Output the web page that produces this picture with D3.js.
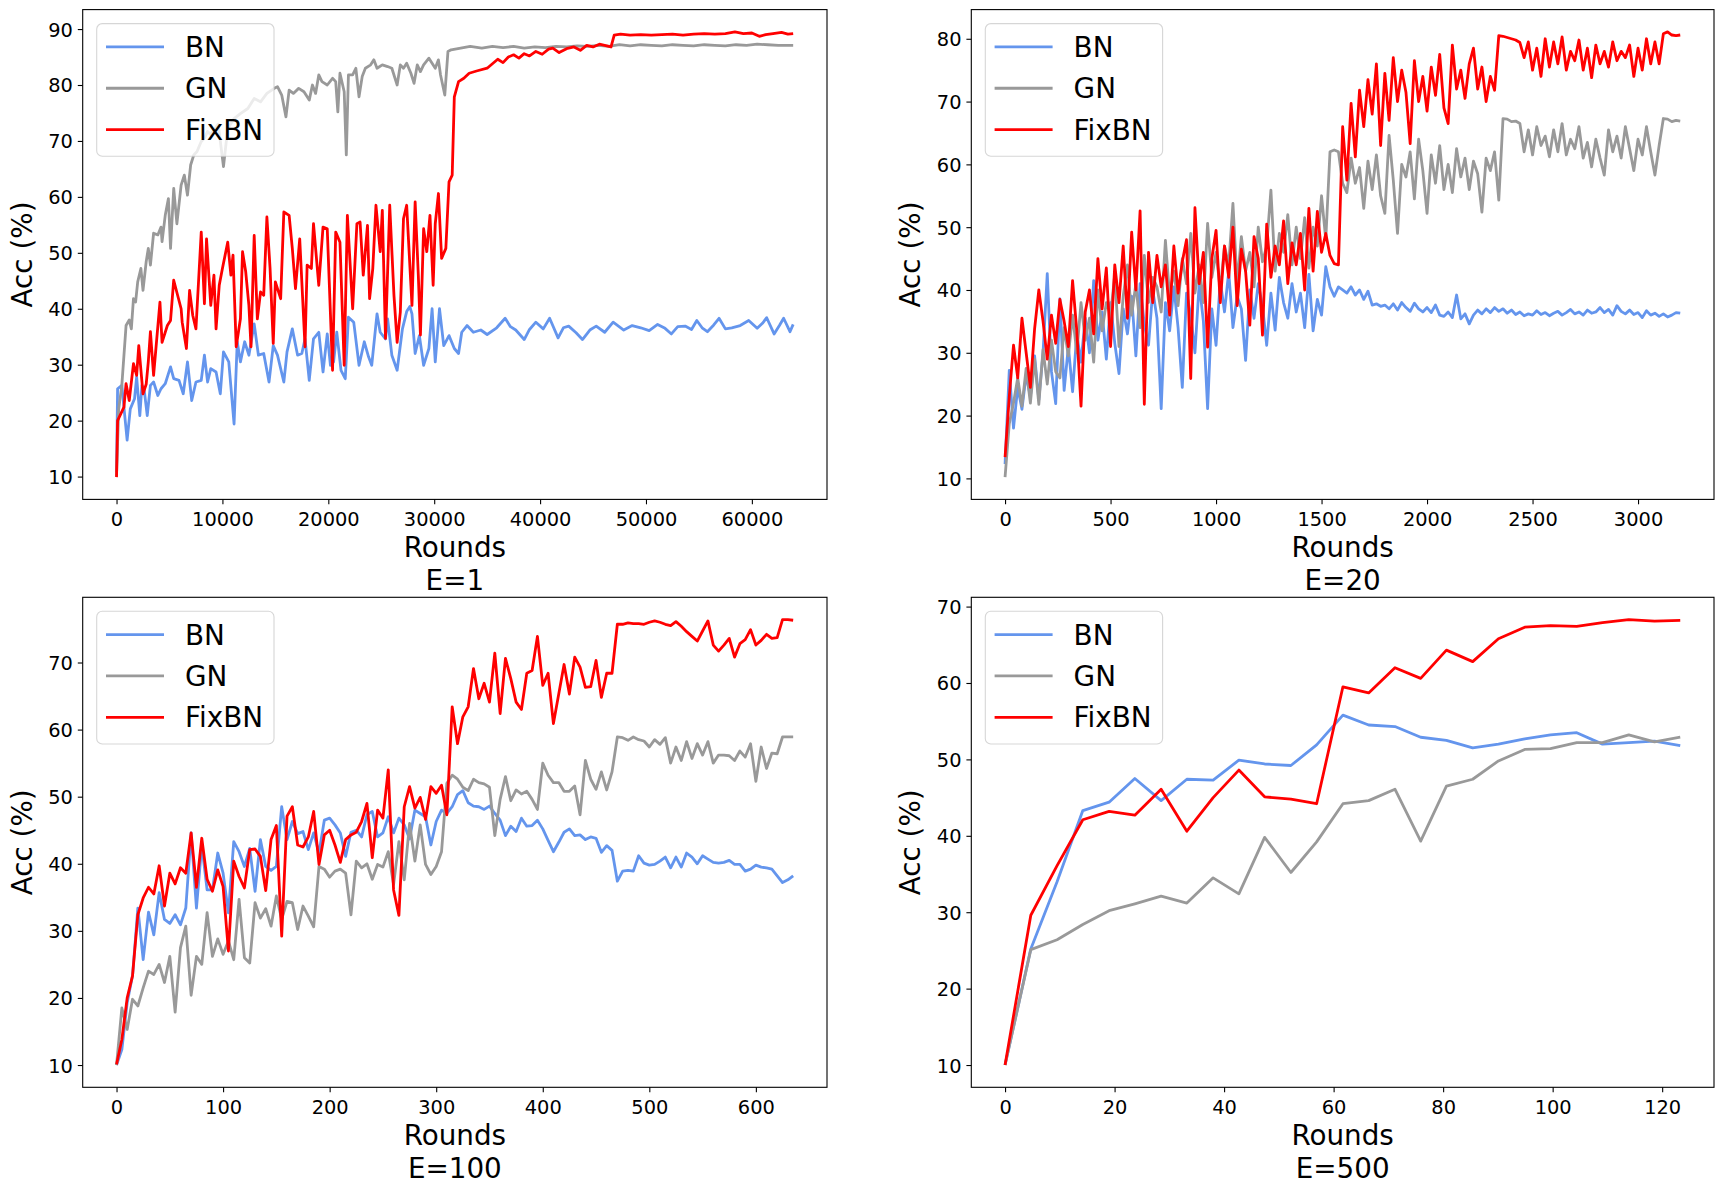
<!DOCTYPE html>
<html><head><meta charset="utf-8">
<script src="https://cdn.jsdelivr.net/npm/d3@7"></script>
<style>body{margin:0;background:#fff}svg{display:block;font-family:"DejaVu Sans",sans-serif}</style>
</head><body><svg id="c" width="1719" height="1193"></svg>
<script>
// ---------------- DATA ----------------
const seriesNames = ["BN", "GN", "FixBN"];
const seriesColors = ["#6495ED", "#999999", "#FF0000"];

// E=1 : [round, acc] vertices
const e1BN = [[0,10.8],[100,25.7],[500,26.3],[1000,16.5],[1300,22.1],[1700,23.9],[1900,27.8],[2200,20.9],[2400,26.3],[2600,25.7],[2900,20.9],[3200,26.3],[3500,26.9],[3900,24.5],[4200,25.7],[4600,26.6],[5100,29.6],[5400,27.5],[5900,27.2],[6300,24.8],[6700,30.5],[7100,23.6],[7500,26.9],[8000,27.2],[8300,31.7],[8600,26.9],[8900,29.3],[9400,28.7],[9800,24.8],[10100,32.3],[10600,30.5],[11100,19.4],[11400,34.1],[11700,30.5],[12100,34.1],[12500,31.7],[13000,37.3],[13400,31.7],[13900,32.0],[14400,26.9],[14800,33.4],[15200,31.7],[15800,26.9],[16100,32.3],[16600,36.4],[17100,31.7],[17500,32.0],[17800,34.6],[18200,27.2],[18600,34.6],[19100,35.8],[19500,28.7],[19900,35.5],[20200,29.9],[20500,30.5],[20800,35.8],[21200,29.0],[21600,27.5],[21900,38.5],[22400,37.6],[22900,29.9],[23400,34.1],[23800,31.4],[24100,29.9],[24600,39.1],[24900,35.8],[25400,34.6],[25600,38.2],[26000,31.7],[26500,29.0],[27000,36.4],[27400,39.5],[27700,40.4],[27900,39.1],[28200,32.0],[28600,35.2],[29000,29.9],[29500,32.9],[29800,40.0],[30100,30.5],[30500,40.0],[30900,33.4],[31400,35.2],[31900,32.9],[32300,32.0],[32600,35.8],[33100,37.0],[33700,35.8],[34400,36.2],[35000,35.4],[35900,36.6],[36700,38.3],[37200,36.8],[37700,36.2],[38500,34.5],[39000,36.3],[39600,37.6],[40300,36.4],[40900,38.3],[41700,34.8],[42200,36.6],[42700,36.9],[43400,35.7],[44000,34.5],[44700,36.2],[45300,36.9],[46100,35.8],[46900,37.6],[47900,36.2],[48700,37.0],[49500,36.6],[50300,36.1],[51100,37.2],[51800,36.5],[52400,35.5],[53000,36.8],[53700,36.9],[54300,36.3],[54800,37.9],[55300,36.6],[55800,35.9],[56400,37.1],[56900,38.3],[57500,36.4],[58100,36.6],[58900,37.0],[59700,37.9],[60500,36.5],[61000,37.4],[61400,38.4],[62100,35.5],[62600,37.0],[63000,38.3],[63600,35.9],[63900,37.2]];
const e1GN = [[0,10],[200,22],[500,26.3],[900,37],[1200,38],[1400,36.4],[1600,41.8],[1800,41.2],[2000,44.8],[2300,47.2],[2500,43.3],[2800,48.4],[3000,50.8],[3200,47.8],[3500,53.5],[3900,53.2],[4200,54.6],[4300,52],[4600,56.7],[4900,59.7],[5100,50.8],[5400,61.5],[5700,55.2],[6100,62.1],[6400,63.9],[6700,60.3],[7000,65.7],[7300,67.5],[7600,68.1],[8000,69.9],[8300,70.5],[8600,71.7],[8900,71.1],[9200,72.0],[9600,73.0],[10100,65.4],[10500,72.2],[11100,74.0],[11700,74.9],[12400,75.8],[13000,77.6],[13600,77.0],[14200,78.5],[14900,79.4],[15200,79.7],[15600,78.2],[16000,74.3],[16300,79.1],[16700,78.5],[17200,79.4],[17700,78.8],[18200,77.3],[18500,80.0],[18800,78.5],[19100,81.8],[19400,80.6],[19900,80.0],[20400,81.2],[20700,80.6],[20900,75.2],[21100,82.1],[21500,78.8],[21700,67.5],[21900,81.8],[22300,81.8],[22600,83.0],[22900,77.9],[23200,81.5],[23500,83.0],[24000,83.6],[24300,84.5],[24600,83.0],[25100,83.6],[25600,83.3],[26000,83.0],[26500,80.0],[26800,83.6],[27100,83.0],[27400,83.9],[27800,82.1],[28100,80.3],[28400,83.6],[28700,82.4],[29000,83.6],[29500,84.8],[29800,83.9],[30100,83.0],[30400,84.5],[30600,81.8],[31000,78.2],[31300,86.0],[31600,86.3],[32500,86.6],[33400,86.9],[34500,86.6],[35500,86.9],[36500,86.7],[37500,86.9],[38500,86.6],[39500,86.8],[40500,86.7],[41500,86.9],[42500,86.8],[43500,87.0],[44500,86.9],[45500,87.1],[46500,86.9],[47500,87.2],[48500,87.0],[49500,87.2],[50500,87.1],[51500,87.0],[52500,87.2],[53500,87.1],[54500,87.0],[55500,87.2],[56500,87.1],[57500,87.0],[58500,87.2],[59500,87.1],[60500,87.3],[61500,87.2],[62500,87.1],[63900,87.1]];
const e1FixBN = [[0,9.9],[100,20.0],[400,21.2],[700,22.4],[900,26.6],[1200,23.6],[1600,30.2],[1900,28.1],[2100,33.4],[2500,24.8],[2800,26.5],[3000,30.5],[3200,35.9],[3500,28.1],[4100,41.2],[4300,34.0],[4800,37.0],[5100,37.9],[5400,45.1],[6100,40.0],[6200,37.6],[6600,32.9],[6900,43.3],[7200,38.8],[7500,36.4],[8000,53.7],[8300,40.9],[8500,52.5],[8900,40.6],[9200,46.0],[9400,36.4],[9700,44.2],[10000,47.2],[10500,51.9],[10800,46.0],[11000,49.6],[11300,33.2],[11700,38.2],[11900,50.2],[12200,46.6],[12500,40.6],[12700,33.2],[13000,53.1],[13300,38.2],[13600,43.0],[13900,42.4],[14200,56.4],[14500,47.2],[14800,33.8],[15000,44.8],[15500,41.8],[15800,57.3],[16300,56.7],[16600,50.8],[16900,43.6],[17300,52.5],[17800,33.2],[18000,47.8],[18400,47.2],[18600,55.2],[19100,44.2],[19500,54.6],[19900,54.3],[20400,29.0],[20700,53.7],[21100,51.9],[21500,29.9],[21800,56.7],[22300,40.0],[22700,55.2],[23000,55.5],[23300,46.0],[23700,54.9],[23900,41.8],[24200,47.2],[24500,58.5],[24900,50.2],[25100,57.6],[25400,34.7],[25800,58.5],[26200,42.4],[26500,34.0],[26800,39.4],[27100,56.1],[27400,58.5],[27900,40.6],[28200,59.1],[28500,46.0],[28700,35.3],[29000,54.3],[29300,50.2],[29600,56.7],[29900,44.2],[30100,55.2],[30400,60.6],[30700,49.0],[31100,50.8],[31400,62.7],[31700,63.9],[31900,77.9],[32300,80.6],[32800,81.2],[33300,82.1],[34000,82.5],[35000,83.0],[35500,83.8],[36000,84.6],[36500,84.0],[37000,85.0],[37500,85.4],[38000,84.8],[38500,85.6],[39000,85.2],[39600,86.0],[40200,85.5],[40800,86.4],[41200,86.6],[41800,85.8],[42500,86.5],[43200,86.8],[43800,86.2],[44400,87.1],[45000,86.8],[45600,87.3],[46300,87.0],[46700,86.8],[47000,88.9],[47600,89.1],[48500,88.9],[49500,89.0],[50500,88.9],[51500,89.0],[52500,89.1],[53500,88.9],[54500,89.1],[55500,89.2],[56500,89.1],[57500,89.2],[58400,89.5],[59200,89.2],[60000,89.3],[60700,88.7],[61300,89.0],[62000,89.2],[62800,89.4],[63400,89.1],[63900,89.2]];

// E=20 : one value every 20 rounds (0 .. 3200)
const e20RoundStep = 20;
const e20BN = [12.3,27.2,18.0,24.5,21.0,26.5,23.0,29.5,22.5,30.0, 42.6,27.0,21.9,38.6,24.0,31.0,23.8,33.0,28.5,35.5, 30.0,41.5,32.0,36.5,29.0,38.0,31.5,26.7,37.0,33.0, 39.0,29.5,41.0,34.5,31.2,40.0,35.5,21.1,38.0,33.5, 40.5,34.0,24.5,39.5,36.0,30.0,41.0,35.0,21.1,37.0, 31.2,41.5,36.5,42.9,34.0,39.0,37.0,28.8,40.0,35.5, 41.0,37.5,31.2,39.5,33.6,42.0,38.0,35.5,41.0,36.5, 39.5,34.0,42.5,33.5,38.5,36.0,43.7,40.5,39.0,40.5, 40.0,39.5,40.5,39.2,40.0,38.5,39.8,37.6,37.8,37.4, 37.6,37.0,37.8,36.8,38.0,37.2,36.6,37.9,37.0,36.5, 37.2,36.4,37.6,36.0,35.8,36.5,35.6,39.2,35.4,36.2, 34.6,36.0,36.8,36.2,37.0,36.4,37.2,36.6,37.0,36.3, 36.8,36.1,36.5,35.9,36.2,36.0,36.7,36.1,36.4,35.9, 36.3,36.6,36.0,36.4,36.9,36.2,36.5,36.0,36.8,36.3, 36.5,37.2,36.4,36.9,36.0,37.5,36.6,36.2,36.8,36.1, 36.4,35.6,36.7,36.0,36.3,35.8,36.2,35.7,36.0,36.4, 36.3];
const e20GN = [10.2,18.7,22.0,26.0,21.5,27.5,22.0,29.0,21.8,30.5, 25.0,32.0,27.0,26.0,34.0,29.5,36.0,30.0,38.0,32.0, 35.5,28.5,40.0,33.5,38.0,36.0,42.5,31.0,39.0,44.0, 36.0,41.0,34.0,45.5,38.0,42.0,40.5,36.5,47.9,39.0, 43.0,37.5,45.0,41.0,49.0,39.5,44.0,38.0,50.6,42.0, 46.0,40.0,47.0,44.0,53.8,41.0,48.5,43.0,46.0,40.5, 50.0,44.5,47.0,55.9,43.0,49.0,46.0,52.0,44.0,50.0, 45.0,51.5,43.5,50.0,47.0,55.0,48.0,62.0,62.3,62.0, 57.0,55.5,61.0,57.0,59.5,53.0,60.5,56.0,61.5,55.0, 52.2,64.6,57.5,49.0,60.0,58.0,62.0,54.5,64.0,59.0, 52.2,61.5,57.0,63.0,56.0,60.0,55.5,62.5,58.0,61.0, 56.0,60.5,58.5,52.4,61.0,59.0,62.0,54.3,67.3,67.2, 66.8,66.9,66.5,62.0,65.5,61.5,66.0,63.0,64.5,61.2, 65.5,62.0,66.5,61.5,64.0,62.5,66.0,61.0,63.5,59.6, 64.0,61.0,58.3,65.5,62.0,64.5,61.0,66.0,62.5,59.0, 64.0,61.5,66.0,62.0,58.3,63.0,67.3,67.2,66.8,67.0, 66.9];
const e20FixBN = [13.4,23.0,31.2,26.0,35.5,30.0,24.5,33.8,40.0,35.0, 29.0,36.0,31.5,38.5,35.0,31.0,41.5,33.5,21.5,36.5, 40.0,33.0,45.0,37.0,43.5,31.0,44.0,38.0,47.0,35.5, 49.2,40.0,52.6,21.8,46.0,38.0,45.5,40.5,44.0,36.0, 47.0,39.5,44.5,48.0,25.9,53.1,41.0,46.0,30.9,45.0, 49.5,38.0,47.0,42.0,50.0,37.5,46.5,43.0,34.4,48.5, 45.0,32.8,50.5,42.0,47.0,44.0,51.0,41.0,47.5,44.0, 49.0,40.0,53.0,43.0,52.5,46.0,49.0,45.5,44.2,44.0, 66.0,57.5,69.7,61.2,71.8,66.0,73.5,68.0,76.0,63.0, 74.5,67.0,77.0,70.0,75.0,71.5,63.3,76.5,70.0,74.0, 68.5,75.5,71.0,77.5,69.0,66.5,79.0,72.0,75.0,70.5, 76.0,78.5,72.0,75.5,70.0,74.0,71.8,80.5,80.4,80.2, 80.0,79.8,79.4,77.0,79.5,75.0,78.5,74.0,80.0,75.5, 79.5,76.0,80.3,75.0,78.0,76.5,79.8,75.0,78.5,73.8, 79.0,76.0,78.0,75.5,79.5,76.5,78.0,77.0,79.0,74.0, 78.5,75.0,80.0,76.0,79.5,76.0,80.8,81.1,80.6,80.5, 80.6];

// E=100 : one value every 5 rounds (0 .. 635)
const e100RoundStep = 5;
const e100BN = [10,12.3,19.3,23.3,33.4,25.7,32.8,29.4,35.7,31.7, 31.1,32.4,30.9,33.4,44.6,33.4,42.8,36.1,36.1,41.6, 38.6,32.7,43.3,41.8,39.6,42.3,35.9,43.6,39.6,39.0, 39.6,48.5,43.6,46.3,44.5,44.8,42.1,44.6,41.6,46.5, 46.8,45.8,44.6,41.1,44.7,45.0,44.0,47.3,47.8,44.0, 44.6,47.0,44.6,46.8,45.8,43.7,48.0,47.5,47.0,42.8, 46.3,48.0,47.5,48.5, 50.3,50.9,49.1,48.6,48.5,48.1,48.6,47.5,46.5,44.2, 45.6,44.8,46.8,45.6,45.7,46.5,45.2,43.5,41.8,43.2, 44.7,45.2,44.2,44.3,43.6,44.0,43.8,41.7,42.7,42.0, 37.4,38.9,39.0,38.9,41.2,40.1,39.8,39.9,40.4,41.0, 39.4,41.0,39.5,41.6,41.0,40.0,41.2,40.7,40.2,40.1, 40.2,40.5,39.9,39.9,38.9,39.2,39.8,39.5,39.4,39.2, 38.2,37.2,37.6,38.2];
const e100GN = [10,18.5,15.3,19.8,18.8,21.5,24.0,23.5,25.0,22.3, 26.2,17.9,27.5,30.7,20.4,26.2,25.0,32.7,26.2,28.8, 26.5,28.5,25.7,34.7,26.0,25.2,34.2,31.9,33.3,30.7, 35.2,31.7,34.4,34.2,30.2,33.7,32.2,30.6,39.6,39.2, 38.0,38.9,39.2,38.6,32.4,40.4,39.4,40.0,37.7,39.9, 39.5,41.8,36.9,43.3,37.6,46.0,40.4,45.8,39.9,38.4, 39.6,41.8,52.0,53.2, 52.6,51.4,50.9,52.6,52.1,51.9,51.4,44.2,49.6,53.0, 49.4,51.0,50.4,50.8,49.6,48.1,55.0,53.2,52.1,52.1, 50.8,50.8,51.6,47.3,55.4,52.6,51.1,53.7,51.0,53.7, 58.9,58.8,58.4,58.9,58.5,58.3,57.4,58.5,57.8,58.8, 55.0,57.4,55.4,58.2,55.7,57.9,56.2,58.2,55.0,56.2, 56.2,56.1,55.4,56.8,55.9,57.9,52.3,57.4,54.2,56.5, 56.4,58.9,58.9,58.9];
const e100FixBN = [10.1,13.8,20.0,23.3,32.4,34.9,36.5,35.5,39.7,33.7, 38.6,37.0,39.4,38.6,44.6,36.5,43.8,37.7,35.9,39.1, 36.6,27.0,40.4,38.1,36.4,42.1,42.2,41.1, 36.0,43.6,45.7,29.2,47.1,48.5,42.8,42.5,44.0,47.8, 39.9,44.3,45.0,42.8,40.2,43.6,44.3,44.7,46.3,49.0, 40.9,48.0,46.8,54.0,36.1,32.3,48.5,51.5,48.3,49.9, 46.6,51.5,50.5,51.7,47.3, 63.4,57.9,61.9,63.4,69.1,64.6,66.9,64.1,71.4,62.4, 70.6,67.6,64.1,63.0,68.4,68.8,73.9,66.6,68.4,60.9, 65.3,69.7,65.3,70.8,69.3,66.3,66.4,70.3,64.8,68.4, 68.4, 75.7,75.7,75.9,75.8,75.8,75.7,76.0,76.2,76.0,75.7, 75.5,76.1,75.4,74.6,73.9,73.2,74.7,76.2,72.6,71.7, 72.6,73.6,70.8,72.8,73.4,74.9,72.6,73.3,74.2,73.6, 73.7,76.4,76.4,76.3];

// E=500
const e500Rounds = [0,4.7,9.5,14.2,19,23.7,28.5,33.2,38,42.7,47.4,52.2,56.9,61.7,66.4,71.2,75.9,80.6,85.4,90.1,94.9,99.6,104.4,109.1,113.9,118.6,123.3];
const e500BN = [10,25.2,34.0,43.3,44.4,47.5,44.6,47.4,47.3,49.9,49.4,49.2,51.9,55.8,54.5,54.3,52.9,52.5,51.5,52.0,52.7,53.2,53.5,52.0,52.2,52.4,51.8];
const e500GN = [10,25.1,26.4,28.4,30.2,31.1,32.1,31.2,34.5,32.4,39.8,35.2,39.2,44.2,44.6,46.1,39.3,46.5,47.4,49.8,51.3,51.4,52.2,52.2,53.2,52.3,52.9];
const e500FixBN = [10,29.6,36.1,42.1,43.2,42.7,46.1,40.6,45.0,48.6,45.1,44.8,44.2,59.5,58.7,62.0,60.6,64.3,62.8,65.8,67.3,67.5,67.4,67.9,68.3,68.1,68.2];

// tick values
const e1XTicks = [0,10000,20000,30000,40000,50000,60000];
const e1YTicks = [10,20,30,40,50,60,70,80,90];
const e20XTicks = [0,500,1000,1500,2000,2500,3000];
const e20YTicks = [10,20,30,40,50,60,70,80];
const e100XTicks = [0,100,200,300,400,500,600];
const e100YTicks = [10,20,30,40,50,60,70];
const e500XTicks = [0,20,40,60,80,100,120];
const e500YTicks = [10,20,30,40,50,60,70];
const panelTitles = ["E=1", "E=20", "E=100", "E=500"];
const xLabel = "Rounds";
const yLabel = "Acc (%)";

// ---------------- BUILD ----------------
const stepPts = (vals, step) => vals.map((v, i) => [i * step, v]);
const listPts = (xs, vals) => vals.map((v, i) => [xs[i], v]);

const panels = [
  { box:[82.7, 827, 9.6, 499.4], series:[e1BN, e1GN, e1FixBN], xt:e1XTicks, yt:e1YTicks, title:panelTitles[0] },
  { box:[971.3, 1714, 9.6, 499.4], series:[stepPts(e20BN,e20RoundStep), stepPts(e20GN,e20RoundStep), stepPts(e20FixBN,e20RoundStep)], xt:e20XTicks, yt:e20YTicks, title:panelTitles[1] },
  { box:[82.7, 827, 597.3, 1087.3], series:[stepPts(e100BN,e100RoundStep), stepPts(e100GN,e100RoundStep), stepPts(e100FixBN,e100RoundStep)], xt:e100XTicks, yt:e100YTicks, title:panelTitles[2] },
  { box:[971.3, 1714, 597.3, 1087.3], series:[listPts(e500Rounds,e500BN), listPts(e500Rounds,e500GN), listPts(e500Rounds,e500FixBN)], xt:e500XTicks, yt:e500YTicks, title:panelTitles[3] }
];

const svg = d3.select("#c");
svg.append("rect").attr("width",1719).attr("height",1193).attr("fill","#fff");
const TICK_FS = 19.4, LABEL_FS = 27.8, LEG_FS = 27.8, LW = 2.8;

function pad(ext){ const d = ext[1]-ext[0]; return [ext[0]-0.05*d, ext[1]+0.05*d]; }

panels.forEach((p, pi) => {
  const [L, R, T, B] = p.box;
  const all = p.series.flat();
  const x = d3.scaleLinear().domain(pad(d3.extent(all, d => d[0]))).range([L, R]);
  const y = d3.scaleLinear().domain(pad(d3.extent(all, d => d[1]))).range([B, T]);
  const g = svg.append("g");
  const clipId = "clip" + pi;
  g.append("clipPath").attr("id", clipId).append("rect").attr("x",L).attr("y",T).attr("width",R-L).attr("height",B-T);

  const line = d3.line().x(d => x(d[0])).y(d => y(d[1]));
  const lg = g.append("g").attr("clip-path", `url(#${clipId})`);
  p.series.forEach((s, si) => {
    lg.append("path").datum(s).attr("d", line).attr("fill","none")
      .attr("stroke", seriesColors[si]).attr("stroke-width", LW)
      .attr("stroke-linejoin","round").attr("stroke-linecap","butt");
  });

  // frame
  g.append("rect").attr("x",L).attr("y",T).attr("width",R-L).attr("height",B-T)
    .attr("fill","none").attr("stroke","#000").attr("stroke-width",1.1);

  // axes
  const xa = g.append("g").attr("transform",`translate(0,${B})`)
    .call(d3.axisBottom(x).tickValues(p.xt).tickFormat(d3.format("d")).tickSize(4.9).tickPadding(4.9));
  const ya = g.append("g").attr("transform",`translate(${L},0)`)
    .call(d3.axisLeft(y).tickValues(p.yt).tickFormat(d3.format("d")).tickSize(4.9).tickPadding(4.9));
  [xa, ya].forEach(a => {
    a.select(".domain").remove();
    a.attr("font-family", null).attr("font-size", null);
    a.selectAll("line").attr("stroke","#000").attr("stroke-width",1.1);
    a.selectAll("text").attr("fill","#000").style("font-size", TICK_FS + "px").style("font-family","DejaVu Sans");
  });
  xa.selectAll("text").attr("y", 26.5).attr("dy", null);
  ya.selectAll("text").attr("dy", "0.36em");

  // labels
  const cx = (L + R) / 2;
  g.append("text").attr("x", cx).attr("y", B + 57.3).attr("text-anchor","middle")
    .style("font-size", LABEL_FS + "px").text(xLabel);
  g.append("text").attr("x", cx).attr("y", B + 90.7).attr("text-anchor","middle")
    .style("font-size", LABEL_FS + "px").text(p.title);
  g.append("text").attr("transform", `translate(${L - 51},${(T + B) / 2}) rotate(-90)`)
    .attr("text-anchor","middle").style("font-size", LABEL_FS + "px").text(yLabel);

  // legend
  const leg = g.append("g").attr("transform", `translate(${L + 14},${T + 14})`);
  leg.append("rect").attr("width",177.3).attr("height",132.7).attr("rx",5.6).attr("ry",5.6)
    .attr("fill","#fff").attr("fill-opacity",0.8)
    .attr("stroke","#cccccc").attr("stroke-opacity",0.8).attr("stroke-width",1.1);
  seriesNames.forEach((n, i) => {
    const yy = 23.3 + i * 41.35;
    leg.append("line").attr("x1",9.3).attr("x2",67.3).attr("y1",yy).attr("y2",yy)
      .attr("stroke", seriesColors[i]).attr("stroke-width",LW);
    leg.append("text").attr("x",88.3).attr("y",yy + 10.1).style("font-size", LEG_FS + "px").text(n);
  });
});
</script></body></html>
